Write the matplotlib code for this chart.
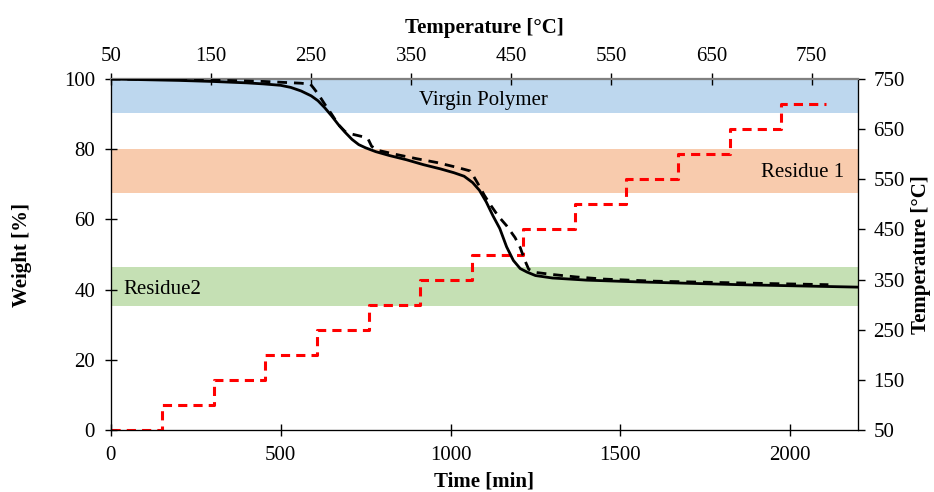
import numpy as np
import matplotlib.pyplot as plt
from matplotlib.patches import Rectangle

plt.rcParams['font.family'] = ['Liberation Serif', 'DejaVu Serif']

# TGA measured weight (solid)
t_meas = [0, 100, 200, 300, 400, 450, 500, 530, 560, 590, 610, 630, 650, 670,
          690, 710, 730, 750, 780, 820, 870, 920, 970, 1010, 1040, 1065, 1085,
          1105, 1125, 1145, 1165, 1185, 1205, 1225, 1250, 1300, 1400, 1550,
          1700, 1850, 2000, 2200]
w_meas = [100.0, 99.8, 99.6, 99.3, 98.9, 98.6, 98.2, 97.6, 96.6, 95.2, 93.8,
          91.8, 89.5, 87.0, 84.8, 82.8, 81.3, 80.4, 79.3, 78.2, 77.0, 75.6,
          74.4, 73.3, 72.3, 70.5, 68.3, 65.0, 61.0, 57.4, 52.2, 48.3, 46.0,
          45.0, 44.0, 43.3, 42.7, 42.2, 41.8, 41.4, 41.1, 40.7]

# model weight (dashed)
t_model = [0, 150, 300, 450, 560, 588, 598, 612, 630, 650, 670, 690, 710, 740,
           758, 768, 790, 840, 900, 960, 1020, 1058, 1066, 1080, 1100, 1120,
           1140, 1165, 1190, 1205, 1218, 1230, 1250, 1300, 1370, 1450, 1600,
           1800, 1950, 2112]
w_model = [100.0, 99.9, 99.7, 99.3, 98.8, 98.5, 97.3, 95.5, 92.8, 90.0, 87.0,
           85.0, 84.3, 83.6, 82.8, 80.8, 79.6, 78.5, 77.3, 76.2, 74.8, 73.8,
           72.6, 70.3, 66.8, 63.8, 61.0, 58.2, 54.8, 52.0, 48.5, 45.8, 44.9,
           44.3, 43.6, 43.0, 42.4, 42.0, 41.7, 41.4]

# oven temperature program (steps)
t_step = [0, 152, 304, 455, 607, 759, 910, 1062, 1214, 1365, 1517, 1669,
          1821, 1972, 2105]
temp_step = [50, 100, 150, 200, 250, 300, 350, 400, 450, 500, 550, 600,
             650, 700, 700]

band_lo = [90.4, 67.4, 35.4]
band_hi = [100.0, 80.0, 46.5]
band_colors = ['#BDD7EE', '#F8CBAD', '#C5E0B4']

FS = 15

fig = plt.figure(figsize=(9.34, 4.92), dpi=100)
ax = fig.add_axes([110.7/934, 1-430/492, (858.3-110.7)/934, (430-79)/492])
ax2 = ax.twinx()
ax3 = ax.twiny()

# bands sit behind everything, red temperature line over them, black curves on top
for lo, hi, c in zip(band_lo, band_hi, band_colors):
    ax2.add_patch(Rectangle((0, lo), 1, hi - lo, transform=ax.get_yaxis_transform(),
                            facecolor=c, edgecolor='none', zorder=0))

ax2.plot(t_step, temp_step, color='red', lw=2.2, ls=(0, (3, 2)),
         drawstyle='steps-post', zorder=3)
ax2.set_ylim(50, 750)
ax2.set_yticks(range(50, 751, 100))
ax2.tick_params(direction='out', length=5, width=1, labelsize=FS, pad=6)
ax2.set_ylabel('Temperature [°C]', fontsize=FS, fontweight='bold', rotation=90)
ax2.yaxis.set_label_coords(1.071, 0.5)

ax.text(1097, 94.0, 'Virgin Polymer', ha='center', va='center', fontsize=FS)
ax.text(2159, 73.5, 'Residue 1', ha='right', va='center', fontsize=FS)
ax.text(38, 39.9, 'Residue2', ha='left', va='center', fontsize=FS)

ax.plot(t_meas, w_meas, color='black', lw=2, zorder=4)
ax.plot(t_model, w_model, color='black', lw=2, ls=(0, (3.5, 2.5)), zorder=4)

ax.set_xlim(0, 2200)
ax.set_ylim(0, 100)
ax.set_xticks([0, 500, 1000, 1500, 2000])
ax.set_yticks([0, 20, 40, 60, 80, 100])
ax.tick_params(direction='inout', length=8.5, width=1, labelsize=FS, pad=7)
ax.set_xlabel('Time [min]', fontsize=FS, fontweight='bold')
ax.set_ylabel('Weight [%]', fontsize=FS, fontweight='bold')
ax.xaxis.set_label_coords(0.5, -0.117)
ax.yaxis.set_label_coords(-0.105, 0.5)

ax3.set_xlim(50, 796.5)
ax3.set_xticks(range(50, 751, 100))
ax3.tick_params(direction='inout', length=8.5, width=1, labelsize=FS, pad=5)
ax3.set_xlabel('Temperature [°C]', fontsize=FS, fontweight='bold')
ax3.xaxis.set_label_coords(0.5, 1.131)

for a in (ax, ax2, ax3):
    a.spines['top'].set_color('#808080')
    a.spines['top'].set_linewidth(1.5)
ax.set_zorder(ax2.get_zorder() + 1)
ax.patch.set_visible(False)
ax2.patch.set_visible(True)
ax2.patch.set_facecolor('white')

fig.savefig('out.png', dpi=100)
